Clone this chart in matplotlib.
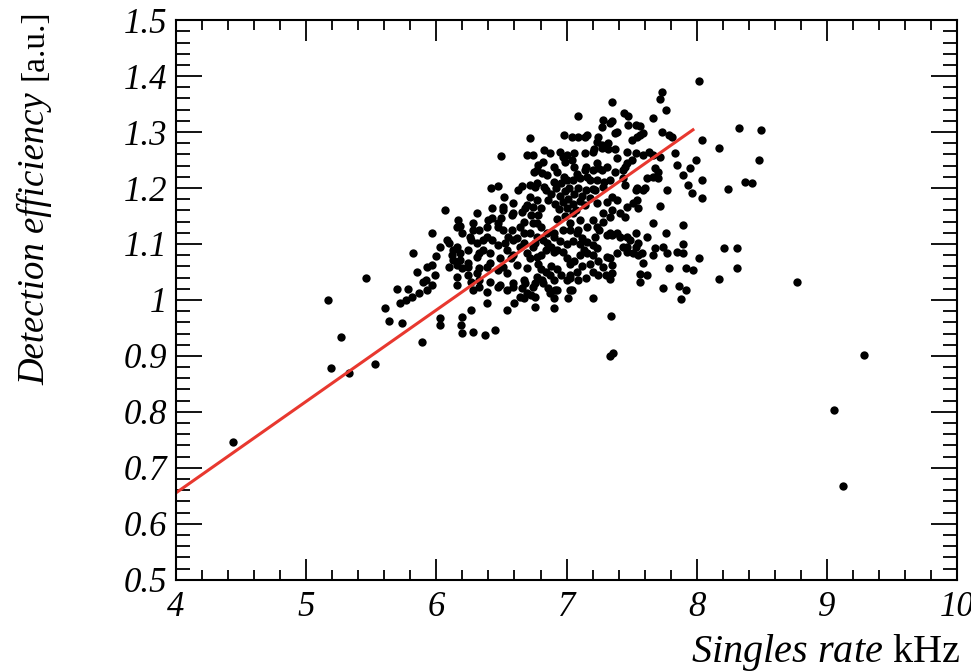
import numpy as np
import matplotlib
matplotlib.use('Agg')
import matplotlib.pyplot as plt
from matplotlib.ticker import MultipleLocator, FuncFormatter


# (singles rate [kHz], detection efficiency [a.u.])
outliers = np.array([
    (4.44, 0.747), (5.17, 0.999), (5.19, 0.879), (5.27, 0.933), (5.33, 0.869),
    (5.46, 1.040), (5.53, 0.885), (9.05, 0.804), (9.12, 0.667), (9.28, 0.902),
    (8.77, 1.032),
])

right_side = np.array([
    (8.02, 1.391), (7.73, 1.371), (7.72, 1.359), (7.76, 1.339), (7.66, 1.325),
    (7.73, 1.300), (7.81, 1.291), (8.04, 1.286), (8.17, 1.272), (8.32, 1.307),
    (8.49, 1.304), (8.48, 1.250), (7.83, 1.262), (7.72, 1.255), (7.66, 1.259),
    (7.99, 1.250), (7.85, 1.241), (7.95, 1.236), (7.68, 1.236), (7.89, 1.223),
    (8.04, 1.215), (8.24, 1.198), (8.37, 1.211), (8.42, 1.209), (7.93, 1.205),
    (7.96, 1.191), (8.04, 1.182), (7.72, 1.168), (7.66, 1.138), (7.76, 1.120),
    (7.89, 1.100), (7.89, 1.084), (8.02, 1.075), (7.68, 1.093), (7.74, 1.095),
    (7.66, 1.080), (7.79, 1.057), (7.92, 1.057), (7.97, 1.054), (8.17, 1.038),
    (8.21, 1.093), (8.31, 1.093), (8.31, 1.057), (7.74, 1.021), (7.86, 1.025),
    (7.92, 1.018), (7.88, 1.002), (7.62, 1.218), (7.66, 1.220), (7.60, 1.200),
    (7.54, 1.179), (7.70, 1.218), (7.70, 1.229), (7.77, 1.196), (7.89, 1.134),
    (7.77, 1.084), (7.85, 1.086), (7.79, 1.295), (7.63, 1.264),
])

upper_mid = np.array([
    (7.35, 1.354), (7.09, 1.329), (7.44, 1.334), (7.47, 1.328), (7.28, 1.321),
    (7.35, 1.319), (7.47, 1.312), (7.53, 1.312), (7.56, 1.311), (7.27, 1.309),
    (7.39, 1.300), (6.98, 1.295), (7.04, 1.291), (7.14, 1.291), (7.16, 1.295),
    (7.24, 1.291), (7.50, 1.286), (7.54, 1.291), (7.56, 1.295), (7.59, 1.298),
    (7.33, 1.316), (7.37, 1.298), (7.32, 1.280), (7.27, 1.277), (7.09, 1.291),
    (7.23, 1.282), (7.20, 1.264), (6.83, 1.268), (7.21, 1.270), (7.27, 1.271),
    (7.32, 1.270), (7.37, 1.270), (7.46, 1.264), (7.53, 1.262), (7.39, 1.254),
    (7.14, 1.262), (7.06, 1.262), (7.00, 1.259), (6.95, 1.264), (6.87, 1.262),
    (6.70, 1.259), (6.74, 1.259), (6.97, 1.255), (7.59, 1.259), (6.82, 1.246),
    (6.90, 1.238), (6.77, 1.232), (6.99, 1.246), (7.04, 1.250), (7.06, 1.238),
    (6.81, 1.227), (6.85, 1.223), (7.15, 1.238), (7.24, 1.236), (7.31, 1.238),
    (7.46, 1.245), (7.50, 1.250), (7.23, 1.245), (7.20, 1.232), (7.27, 1.232),
    (7.14, 1.232), (7.16, 1.220), (7.10, 1.218), (7.05, 1.214), (7.37, 1.229),
    (7.43, 1.232), (7.45, 1.238), (7.43, 1.218), (7.45, 1.205), (7.18, 1.214),
    (7.23, 1.214), (7.29, 1.211), (7.33, 1.214), (7.28, 1.202), (7.22, 1.196),
    (7.35, 1.184), (7.53, 1.196), (7.54, 1.200), (7.59, 1.196), (6.72, 1.289),
])

upper_left = np.array([
    (6.50, 1.257), (6.75, 1.229), (6.78, 1.241), (6.42, 1.200), (6.47, 1.204),
    (6.63, 1.196), (6.66, 1.204), (6.76, 1.202), (6.52, 1.184), (6.59, 1.173),
    (6.43, 1.164), (6.07, 1.161), (6.51, 1.161), (6.43, 1.146), (6.50, 1.146),
    (6.58, 1.152), (6.66, 1.157), (6.70, 1.170), (6.73, 1.152), (6.67, 1.139),
    (6.74, 1.138), (6.78, 1.152), (6.72, 1.205), (6.77, 1.209), (6.72, 1.184),
    (6.77, 1.179), (6.74, 1.166), (6.80, 1.164), (6.51, 1.166), (6.59, 1.155),
    (6.68, 1.164), (6.83, 1.202), (6.90, 1.211), (6.96, 1.209), (7.00, 1.214),
])

core_high = np.array([
    (6.84, 1.196), (6.88, 1.190), (6.92, 1.200), (6.95, 1.185), (6.99, 1.195),
    (7.02, 1.200), (7.06, 1.190), (7.09, 1.200), (7.12, 1.186), (7.15, 1.196),
    (6.86, 1.178), (6.91, 1.172), (6.97, 1.175), (7.01, 1.180), (7.05, 1.172),
    (7.10, 1.176), (7.14, 1.170), (6.94, 1.162), (7.00, 1.165), (7.07, 1.160),
    (7.18, 1.182), (7.20, 1.198), (6.98, 1.220), (7.08, 1.225), (6.93, 1.228),
    (7.23, 1.173), (7.28, 1.155), (7.35, 1.161), (7.41, 1.155), (7.46, 1.166),
    (7.51, 1.173), (7.31, 1.175), (7.39, 1.179), (7.55, 1.164), (7.45, 1.148),
    (7.33, 1.148),
])

core_mid = np.array([
    (6.93, 1.145), (6.99, 1.150), (7.05, 1.155), (7.08, 1.120), (7.12, 1.110),
    (7.25, 1.125), (7.28, 1.140), (6.95, 1.105), (7.00, 1.100), (7.05, 1.105),
    (7.10, 1.100), (6.80, 1.130), (6.72, 1.120), (6.67, 1.102), (6.74, 1.095),
    (6.82, 1.107), (6.90, 1.120), (6.97, 1.125), (7.03, 1.138), (7.10, 1.143),
    (7.16, 1.130), (7.20, 1.143), (7.33, 1.120), (7.41, 1.113), (7.49, 1.107),
    (7.43, 1.095), (7.55, 1.102), (7.51, 1.084), (7.39, 1.084), (7.31, 1.077),
    (7.28, 1.059), (7.35, 1.048), (7.24, 1.045), (7.03, 1.039), (6.96, 1.045),
    (6.87, 1.045), (6.81, 1.036), (6.74, 1.023), (6.68, 1.030), (6.86, 1.021),
    (6.91, 1.018), (6.76, 1.005), (6.64, 1.005), (6.90, 1.004), (7.03, 1.018),
    (6.90, 1.113), (6.85, 1.120), (7.23, 1.130), (7.09, 1.125), (7.03, 1.125),
    (7.35, 1.116), (7.46, 1.113), (7.62, 1.113), (7.16, 1.104), (7.13, 1.089),
    (7.23, 1.093), (6.85, 1.102), (6.90, 1.086), (7.46, 1.086), (7.55, 1.080),
    (7.53, 1.120), (7.39, 1.120), (7.31, 1.116), (7.22, 1.113), (7.20, 1.098),
    (7.20, 1.080), (7.46, 1.095), (7.53, 1.095), (7.33, 1.075), (7.35, 1.063),
    (7.33, 1.038), (7.58, 1.084), (7.59, 1.066), (7.56, 1.046), (7.62, 1.045),
    (7.56, 1.032),
])

hook = np.array([
    (6.80, 1.080), (6.84, 1.090), (6.88, 1.095), (6.93, 1.090), (6.97, 1.085),
    (7.00, 1.075), (7.03, 1.065), (7.06, 1.070), (7.10, 1.080), (7.16, 1.083),
    (7.12, 1.060), (7.08, 1.050), (7.03, 1.045), (6.93, 1.055), (6.88, 1.060),
    (6.84, 1.050), (6.80, 1.055), (6.78, 1.065), (7.18, 1.065), (7.20, 1.050),
    (7.24, 1.070), (7.30, 1.045), (6.90, 1.035), (7.09, 1.035), (7.15, 1.040),
])

left_mid = np.array([
    (6.40, 1.143), (6.47, 1.130), (6.33, 1.125), (6.39, 1.113), (6.28, 1.125),
    (6.26, 1.113), (6.43, 1.107), (6.51, 1.125), (6.58, 1.125), (6.55, 1.113),
    (6.62, 1.111), (6.67, 1.120), (6.77, 1.113), (6.10, 1.102), (6.16, 1.095),
    (6.18, 1.084), (6.12, 1.080), (6.24, 1.089), (6.31, 1.102), (6.36, 1.089),
    (6.31, 1.077), (6.41, 1.084), (6.47, 1.098), (6.49, 1.075), (6.54, 1.089),
    (6.59, 1.080), (6.64, 1.095), (6.70, 1.084), (6.77, 1.077), (6.16, 1.063),
    (6.24, 1.066), (6.33, 1.057), (6.41, 1.066), (6.51, 1.059), (6.62, 1.063),
    (6.70, 1.057), (6.39, 1.130), (6.47, 1.138), (6.64, 1.130), (6.77, 1.138),
    (6.36, 1.107), (6.53, 1.102), (6.59, 1.107), (6.76, 1.102), (6.33, 1.084),
    (6.57, 1.075), (6.72, 1.075), (6.39, 1.059), (6.47, 1.054), (6.54, 1.048),
    (6.77, 1.041), (6.33, 1.036), (6.41, 1.032), (6.49, 1.027), (6.59, 1.023),
    (6.67, 1.036), (6.20, 1.120), (6.27, 1.107), (6.18, 1.071), (6.24, 1.059),
    (6.31, 1.048), (6.10, 1.059), (6.16, 1.130), (6.17, 1.143), (6.28, 1.138),
    (6.31, 1.155), (6.18, 1.132), (5.97, 1.120), (5.82, 1.084), (6.00, 1.079),
    (5.97, 1.062), (6.08, 1.107), (6.03, 1.095), (5.93, 1.059), (5.85, 1.050),
    (5.99, 1.045), (5.92, 1.036),
])

low_band = np.array([
    (5.89, 0.925), (5.61, 0.986), (5.64, 0.963), (5.74, 0.959), (5.70, 1.020),
    (5.78, 1.020), (5.81, 1.005), (5.87, 1.013), (5.93, 1.018), (5.72, 0.995),
    (5.77, 1.000), (5.97, 1.027), (5.90, 1.032), (6.03, 0.968), (6.03, 0.955),
    (6.20, 0.970), (6.19, 0.955), (6.20, 0.941), (6.28, 0.943), (6.37, 0.937),
    (6.45, 0.946), (6.27, 0.982), (6.39, 0.995), (6.54, 0.982), (6.60, 0.995),
    (6.76, 0.988), (6.67, 1.004), (6.73, 1.009), (6.90, 0.986), (7.01, 1.004),
    (7.04, 1.018), (7.20, 1.004), (7.34, 0.971), (7.36, 0.905), (7.33, 0.900),
    (6.13, 1.089), (6.13, 1.071), (6.20, 1.057), (6.24, 1.045), (6.27, 1.032),
    (6.16, 1.041), (6.28, 1.018), (6.33, 1.023), (6.39, 1.014), (6.47, 1.023),
    (6.54, 1.018), (6.59, 1.030), (6.66, 1.021), (6.70, 1.013), (6.76, 1.030),
    (6.16, 1.027), (6.82, 1.030), (6.87, 1.013), (6.93, 1.018), (7.00, 1.036),
])

# linear fit drawn in red
fit_x = [4.0, 7.97]
fit_y = [0.655, 1.304]

# Times-like italic everywhere, upright only where the reference is upright
plt.rcParams['font.family'] = ['Liberation Serif', 'DejaVu Serif']
plt.rcParams['font.style'] = 'italic'
plt.rcParams['mathtext.fontset'] = 'custom'
plt.rcParams['mathtext.rm'] = 'Liberation Serif:style=normal'
plt.rcParams['mathtext.it'] = 'Liberation Serif:style=italic'

fig = plt.figure(figsize=(9.71, 6.71), dpi=100)
ax = fig.add_axes([0.181, 0.136, 0.805, 0.834])

for pts in [outliers, right_side, upper_mid, upper_left, core_high,
            core_mid, hook, left_mid, low_band]:
    ax.plot(pts[:, 0], pts[:, 1], 'o', color='black', ms=6, mew=0)

ax.plot(fit_x, fit_y, color='#e8382f', lw=2.2)

ax.set_xlim(4, 10)
ax.set_ylim(0.5, 1.5)
ax.xaxis.set_major_locator(MultipleLocator(1))
ax.xaxis.set_minor_locator(MultipleLocator(0.2))
ax.yaxis.set_major_locator(MultipleLocator(0.1))
ax.yaxis.set_minor_locator(MultipleLocator(0.02))
ax.yaxis.set_major_formatter(FuncFormatter(lambda v, p: '%g' % round(v, 2)))
ax.xaxis.set_major_formatter(FuncFormatter(lambda v, p: '%g' % v))

ax.tick_params(which='both', direction='in', top=True, right=True,
               width=1.3, labelsize=25)
ax.tick_params(axis='y', which='major', length=19, pad=6)
ax.tick_params(axis='y', which='minor', length=10)
ax.tick_params(axis='x', which='major', length=15, pad=8)
ax.tick_params(axis='x', which='minor', length=7.5)
for s in ax.spines.values():
    s.set_linewidth(1.5)

ylab = ax.set_ylabel('Detection efficiency', fontsize=26.5, loc='top')
ax.yaxis.set_label_coords(-0.158, 0.871)
ax.annotate('[a.u.]', xy=(0.5, 1.0), xycoords=ylab, xytext=(0, 9),
            textcoords='offset points', rotation=90, ha='center', va='bottom',
            fontsize=24, fontstyle='normal')
ax.set_xlabel(r'Singles rate $\mathrm{kHz}$', fontsize=29, loc='right')
ax.xaxis.set_label_coords(1.004, -0.093)

fig.savefig('out.png', dpi=100)
